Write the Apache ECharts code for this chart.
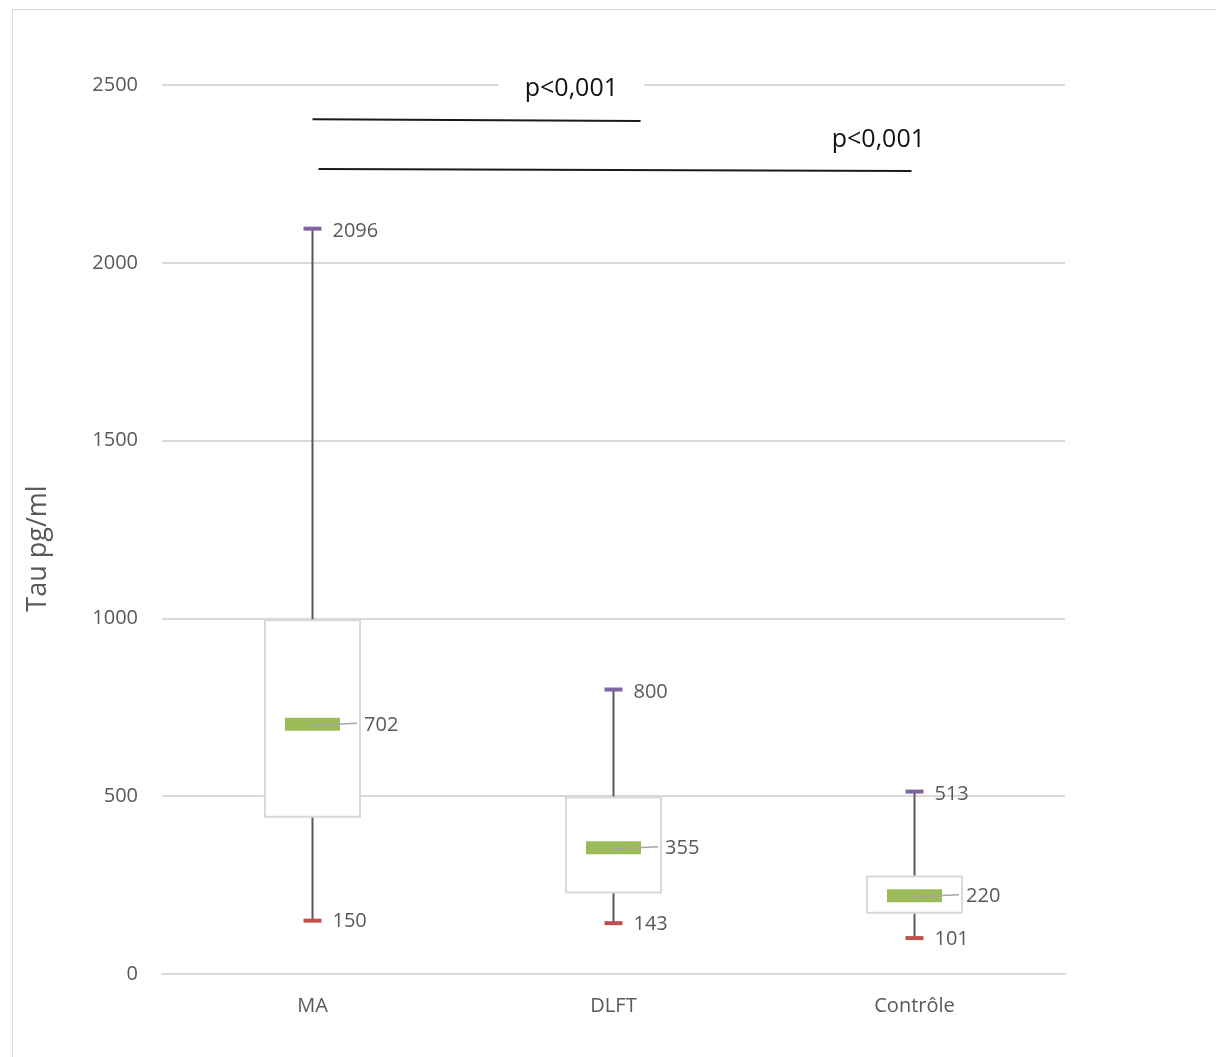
<!DOCTYPE html>
<html>
<head>
<meta charset="utf-8">
<script src="https://cdn.jsdelivr.net/npm/echarts@6/dist/echarts.min.js"></script>
<style>
html,body{margin:0;padding:0;background:#fff;}
#chart{width:1216px;height:1057px;}
</style>
</head>
<body>
<div id="chart"></div>
<script>
// ---- data ----
const categories = ['MA', 'DLFT', 'Contrôle'];
const minValues    = [150, 143, 101];
const q1Values     = [442, 229, 172];
const medianValues = [702, 355, 220];
const q3Values     = [995, 496, 274];
const maxValues    = [2096, 800, 513];
const yTicks = [0, 500, 1000, 1500, 2000, 2500];
const axisTitle = 'Tau pg/ml';
// significance bars: points in category units / data units
const sigLine1 = [[0.0, 2404], [1.09, 2399]];
const sigLine2 = [[0.02, 2264], [1.99, 2258]];
const sigLabels = [[0.86, 2489, 'p<0,001'], [1.88, 2345, 'p<0,001']];

const boxRows = categories.map((c, i) => [i, minValues[i], q1Values[i], medianValues[i], q3Values[i], maxValues[i]]);

const FONT = '"Open Sans", "DejaVu Sans", sans-serif';
const GREY = '#595959';

const chart = echarts.init(document.getElementById('chart'), null, {renderer: 'canvas'});

function renderBox(params, api) {
  const i = api.value(0);
  const pMin = api.coord([i, api.value(1)]);
  const pQ1 = api.coord([i, api.value(2)]);
  const pMed = api.coord([i, api.value(3)]);
  const pQ3 = api.coord([i, api.value(4)]);
  const pMax = api.coord([i, api.value(5)]);
  const cx = pMed[0];
  const band = api.size([1, 0])[0];
  const boxW = band * 0.316;
  const medW = band * 0.183;
  const capW = 18;
  const txt = (t, x, y) => ({
    type: 'text', x: x, y: y,
    style: {text: String(t), fontSize: 20, fontFamily: FONT, fill: GREY, align: 'left', verticalAlign: 'middle'}
  });
  return {
    type: 'group',
    children: [
      {type: 'line', shape: {x1: cx, y1: pMax[1], x2: cx, y2: pMin[1]}, style: {stroke: GREY, lineWidth: 2}},
      {type: 'rect', shape: {x: cx - boxW / 2, y: pQ3[1], width: boxW, height: pQ1[1] - pQ3[1]},
        style: {fill: '#ffffff', stroke: '#d9d9d9', lineWidth: 2}},
      {type: 'rect', shape: {x: cx - medW / 2, y: pMed[1] - 6.5, width: medW, height: 13}, style: {fill: '#9BBB59'}},
      {type: 'line', shape: {x1: cx, y1: pMed[1] + 1, x2: cx + boxW / 2 - 3, y2: pMed[1] - 1},
        style: {stroke: '#a6a6a6', lineWidth: 1.5}},
      txt(api.value(3), cx + boxW / 2 + 4, pMed[1] + 1),
      {type: 'rect', shape: {x: cx - capW / 2, y: pMax[1] - 2, width: capW, height: 4}, style: {fill: '#8064A2'}},
      {type: 'rect', shape: {x: cx - capW / 2, y: pMin[1] - 2, width: capW, height: 4}, style: {fill: '#C0504D'}},
      txt(api.value(5), cx + 20, pMax[1] + 3),
      txt(api.value(1), cx + 20, pMin[1] + 1)
    ]
  };
}

function renderSigLabel(params, api) {
  const p = api.coord([api.value(0), api.value(1)]);
  const t = sigLabels[params.dataIndex][2];
  return {
    type: 'text', x: p[0], y: p[1],
    style: {
      text: t, fontSize: 25, fontFamily: FONT, fill: '#111111', align: 'center', verticalAlign: 'middle',
      backgroundColor: '#ffffff', padding: [2, 26]
    }
  };
}

const option = {
  animation: false,
  backgroundColor: '#ffffff',
  graphic: [{
    type: 'rect', left: 10, top: 7, shape: {width: 1300, height: 1200},
    style: {fill: 'none', stroke: '#d9d9d9', lineWidth: 1}, silent: true, z: -10
  }],
  grid: {left: 162, right: 151, top: 85, bottom: 83, containLabel: false},
  xAxis: [{
    type: 'category', data: categories,
    axisLine: {show: true, lineStyle: {color: '#d9d9d9', width: 2}},
    axisTick: {show: false},
    axisLabel: {color: GREY, fontSize: 20, fontFamily: FONT, margin: 22},
    splitLine: {show: false}
  }, {
    type: 'value', min: -0.5, max: 2.5, show: false
  }],
  yAxis: {
    type: 'value', min: yTicks[0], max: yTicks[yTicks.length - 1], interval: yTicks[1] - yTicks[0],
    name: axisTitle, nameLocation: 'middle', nameGap: 110, nameRotate: 90,
    nameTextStyle: {color: GREY, fontSize: 27, fontFamily: FONT, padding: [0, 38, 0, 0]},
    axisLine: {show: false}, axisTick: {show: false},
    axisLabel: {color: GREY, fontSize: 20, fontFamily: FONT, margin: 24, formatter: v => String(v)},
    splitLine: {lineStyle: {color: '#d9d9d9', width: 2}}
  },
  series: [{
    type: 'custom', xAxisIndex: 0, yAxisIndex: 0,
    data: boxRows, renderItem: renderBox,
    encode: {x: 0, y: [1, 2, 3, 4, 5]}, z: 5
  }, {
    type: 'line', xAxisIndex: 1, yAxisIndex: 0, data: sigLine1, symbol: 'none',
    lineStyle: {color: '#1a1a1a', width: 2}, z: 4
  }, {
    type: 'line', xAxisIndex: 1, yAxisIndex: 0, data: sigLine2, symbol: 'none',
    lineStyle: {color: '#1a1a1a', width: 2}, z: 4
  }, {
    type: 'custom', xAxisIndex: 1, yAxisIndex: 0,
    data: sigLabels.map(s => [s[0], s[1]]),
    renderItem: renderSigLabel, encode: {x: 0, y: 1}, z: 6
  }]
};
chart.setOption(option);
</script>
</body>
</html>
